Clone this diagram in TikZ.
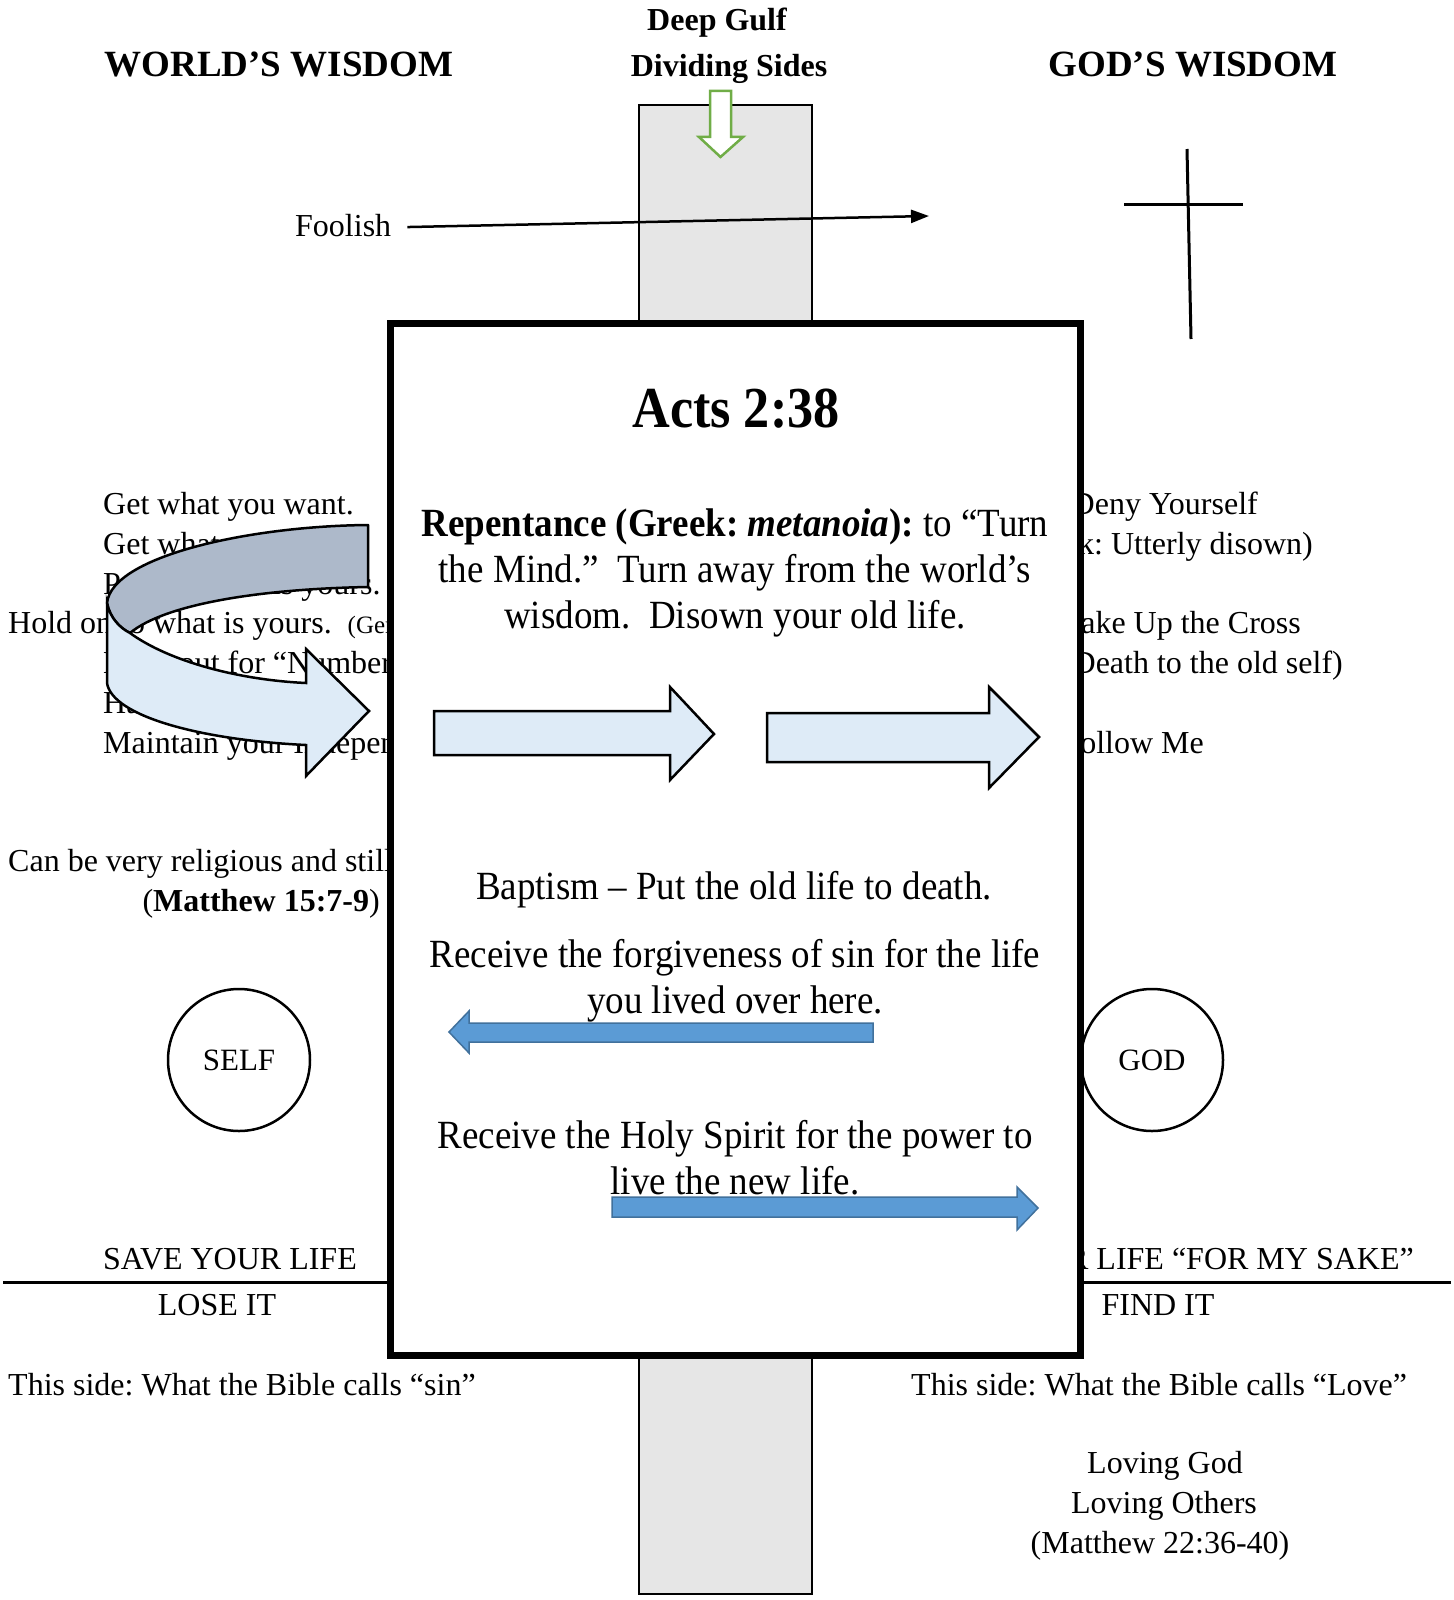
\documentclass[tikz,border=0pt]{standalone}
\usepackage{fontspec}
\setmainfont{Liberation Serif}
\usepackage{graphicx}
\usetikzlibrary{arrows.meta}
\definecolor{gulfgray}{HTML}{E6E6E6}
\definecolor{ribbongray}{HTML}{ADB9CA}
\definecolor{paleblue}{HTML}{DEEBF7}
\definecolor{midblue}{HTML}{5B9BD5}
\definecolor{blueedge}{HTML}{41719C}
\definecolor{leafgreen}{HTML}{70AD47}
\newcommand{\fsz}[2]{\fontsize{#1}{#2}\selectfont}
\newcommand{\cx}[1]{\scalebox{0.925}[1]{#1}}
\frenchspacing
\tikzset{
  txt/.style={inner sep=0pt, font=\fsz{32}{40}},
  ttl/.style={inner sep=0pt, font=\fsz{37}{44}\bfseries},
  boxtxt/.style={inner sep=0pt, font=\fsz{40}{46}, align=center},
  gulf/.style={draw=black, line width=2pt, fill=gulfgray},
  blockarrow/.style={draw=black, line width=2.5pt, fill=paleblue, line join=miter},
  bluearrow/.style={draw=blueedge, line width=1.5pt, fill=midblue},
  circ/.style={draw=black, line width=2.5pt, circle, minimum size=142pt, inner sep=0pt, font=\fsz{31}{38}},
}
\begin{document}
\begin{tikzpicture}[x=1pt,y=-1pt]
\useasboundingbox (0,0) rectangle (1453,1600);
% gulf rectangles
\draw[gulf] (639,105) rectangle (812,330);
\draw[gulf] (639,1350) rectangle (812,1594);
% green arrow
\draw[draw=leafgreen, line width=2.5pt, fill=white]
  (710,91) -- (731,91) -- (731,137) -- (743,137) -- (720.5,157) -- (699,137) -- (710,137) -- cycle;
% titles
\node[ttl, anchor=base] (worldw) at (279,77) {WORLD’S WISDOM};
\node[ttl, anchor=base] (godw) at (1193,77) {GOD’S WISDOM};
\node[inner sep=0pt, font=\fsz{32}{40}\bfseries, anchor=base] (deep) at (717,31) {Deep Gulf};
\node[inner sep=0pt, font=\fsz{32}{40}\bfseries, anchor=base] (divid) at (729,77) {Dividing Sides};
% foolish
\node[txt, anchor=base west] (foolish) at (295,236) {Foolish};
\coordinate (foolend) at (929,216);
\draw[line width=2.5pt, -{Triangle[length=18pt,width=13pt]}] ([xshift=16pt,yshift=-2pt]foolish.east) -- (foolend);
% cross
\coordinate (crossT) at (1187,149);
\coordinate (crossB) at (1191,339);
\coordinate (crossL) at (1124,204);
\coordinate (crossR) at (1243,204);
\draw[line width=3pt] (crossT) -- (crossB);
\draw[line width=3pt] (crossL) -- (crossR);
% left list
\node[txt, anchor=base west] (l1) at (103,514) {Get what you want.};
\node[txt, anchor=base west] (l2) at (103,554) {Get what you need.};
\node[txt, anchor=base west] (l3) at (103,594) {Protect what is yours.};
\node[txt, anchor=base west] (l4) at (8,633) {Hold on to what is yours.\ \ {\fsz{25}{30}(Genesis 3)}};
\node[txt, anchor=base west] (l5) at (103,673) {Look out for “Number One”};
\node[txt, anchor=base west] (l6) at (103,713) {Have it your way.};
\node[txt, anchor=base west] (l7) at (103,753) {Maintain your Independence};
\node[txt, anchor=base west] (relig) at (8,871) {Can be very religious and still be lost.};
\node[txt, anchor=base east] (matt15) at (380,911) {(\textbf{Matthew 15:7-9})};
% right list
\node[txt, anchor=base east] (r1) at (1258,514) {Deny Yourself};
\node[txt, anchor=base east] (r2) at (1313,554) {(Greek: Utterly disown)};
\node[txt, anchor=base east] (r3) at (1301,633) {Take Up the Cross};
\node[txt, anchor=base east] (r4) at (1343,673) {(Death to the old self)};
\node[txt, anchor=base east] (r5) at (1204,753) {Follow Me};
% curved ribbon arrow
\fill[ribbongray, draw=black, line width=2.5pt, line join=round]
  (368,525) .. controls (250,526) and (112,556) .. (107,603)
  .. controls (110,618) and (120,628) .. (130,633)
  .. controls (165,604) and (260,589) .. (368,587) -- cycle;
\fill[paleblue, draw=black, line width=2.5pt, line join=miter]
  (107,603) .. controls (110,618) and (120,628) .. (130,633)
  .. controls (170,662) and (240,680) .. (306,683)
  -- (306,649) -- (369,711) -- (306,776) -- (306,745)
  .. controls (200,740) and (112,716) .. (107,683) -- cycle;
% circles
\node[circ] (self) at (239,1060) {SELF};
\node[circ] (god) at (1152,1060) {GOD};
% horizontal divider
\coordinate (hl) at (3,1282);
\coordinate (hr) at (1451,1282);
\draw[line width=3pt] (hl) -- (390,1282);
\draw[line width=3pt] (1080,1282) -- (hr);
% bottom texts
\node[txt, anchor=base west] (save) at (103,1269) {SAVE YOUR LIFE};
\node[txt, anchor=base] (lose) at (217,1315) {LOSE IT};
\node[txt, anchor=base east] (losemy) at (1414,1269) {LOSE YOUR LIFE “FOR MY SAKE”};
\node[txt, anchor=base] (find) at (1158,1315) {FIND IT};
\node[txt, anchor=base west] (sin) at (8,1395) {This side: What the Bible calls “sin”};
\node[txt, anchor=base west] (love) at (911,1395) {This side: What the Bible calls “Love”};
\node[txt, anchor=base] (lg) at (1165,1473) {Loving God};
\node[txt, anchor=base] (lo) at (1164,1513) {Loving Others};
\node[txt, anchor=base] (m22) at (1160,1553) {(Matthew 22:36-40)};
% main box
\draw[line width=7pt, fill=white] (390,323) rectangle (1080,1355);
\node[inner sep=0pt, font=\fsz{58}{64}\bfseries, anchor=base] (acts) at (736,427) {\scalebox{0.9}[1]{Acts 2:38}};
\node[boxtxt, anchor=base] (rep1) at (735,536) {\cx{\textbf{Repentance (Greek: \textit{metanoia}):} to “Turn}};
\node[boxtxt, anchor=base] (rep2) at (735,582) {\cx{the Mind.”\ \ Turn away from the world’s}};
\node[boxtxt, anchor=base] (rep3) at (735,628) {\cx{wisdom.\ \ Disown your old life.}};
% block arrows
\draw[blockarrow] (434,711) -- (670,711) -- (670,687) -- (714,734) -- (670,780) -- (670,755) -- (434,755) -- cycle;
\draw[blockarrow] (767,713) -- (989,713) -- (989,687) -- (1039,737) -- (989,788) -- (989,762) -- (767,762) -- cycle;
% baptism texts
\node[boxtxt, anchor=base] (bap) at (734,899) {\cx{Baptism – Put the old life to death.}};
\node[boxtxt, anchor=base] (forg1) at (735,967) {\cx{Receive the forgiveness of sin for the life}};
\node[boxtxt, anchor=base] (forg2) at (735,1013) {\cx{you lived over here.}};
\node[boxtxt, anchor=base] (holy1) at (735,1148) {\cx{Receive the Holy Spirit for the power to}};
\node[boxtxt, anchor=base] (holy2) at (735,1194) {\cx{live the new life.}};
% blue arrows
\draw[bluearrow] (449,1032) -- (469,1011) -- (469,1023) -- (873,1023) -- (873,1042) -- (469,1042) -- (469,1053) -- cycle;
\draw[bluearrow] (1038,1208) -- (1017,1187) -- (1017,1197) -- (612,1197) -- (612,1217) -- (1017,1217) -- (1017,1230) -- cycle;
\end{tikzpicture}
\end{document}
